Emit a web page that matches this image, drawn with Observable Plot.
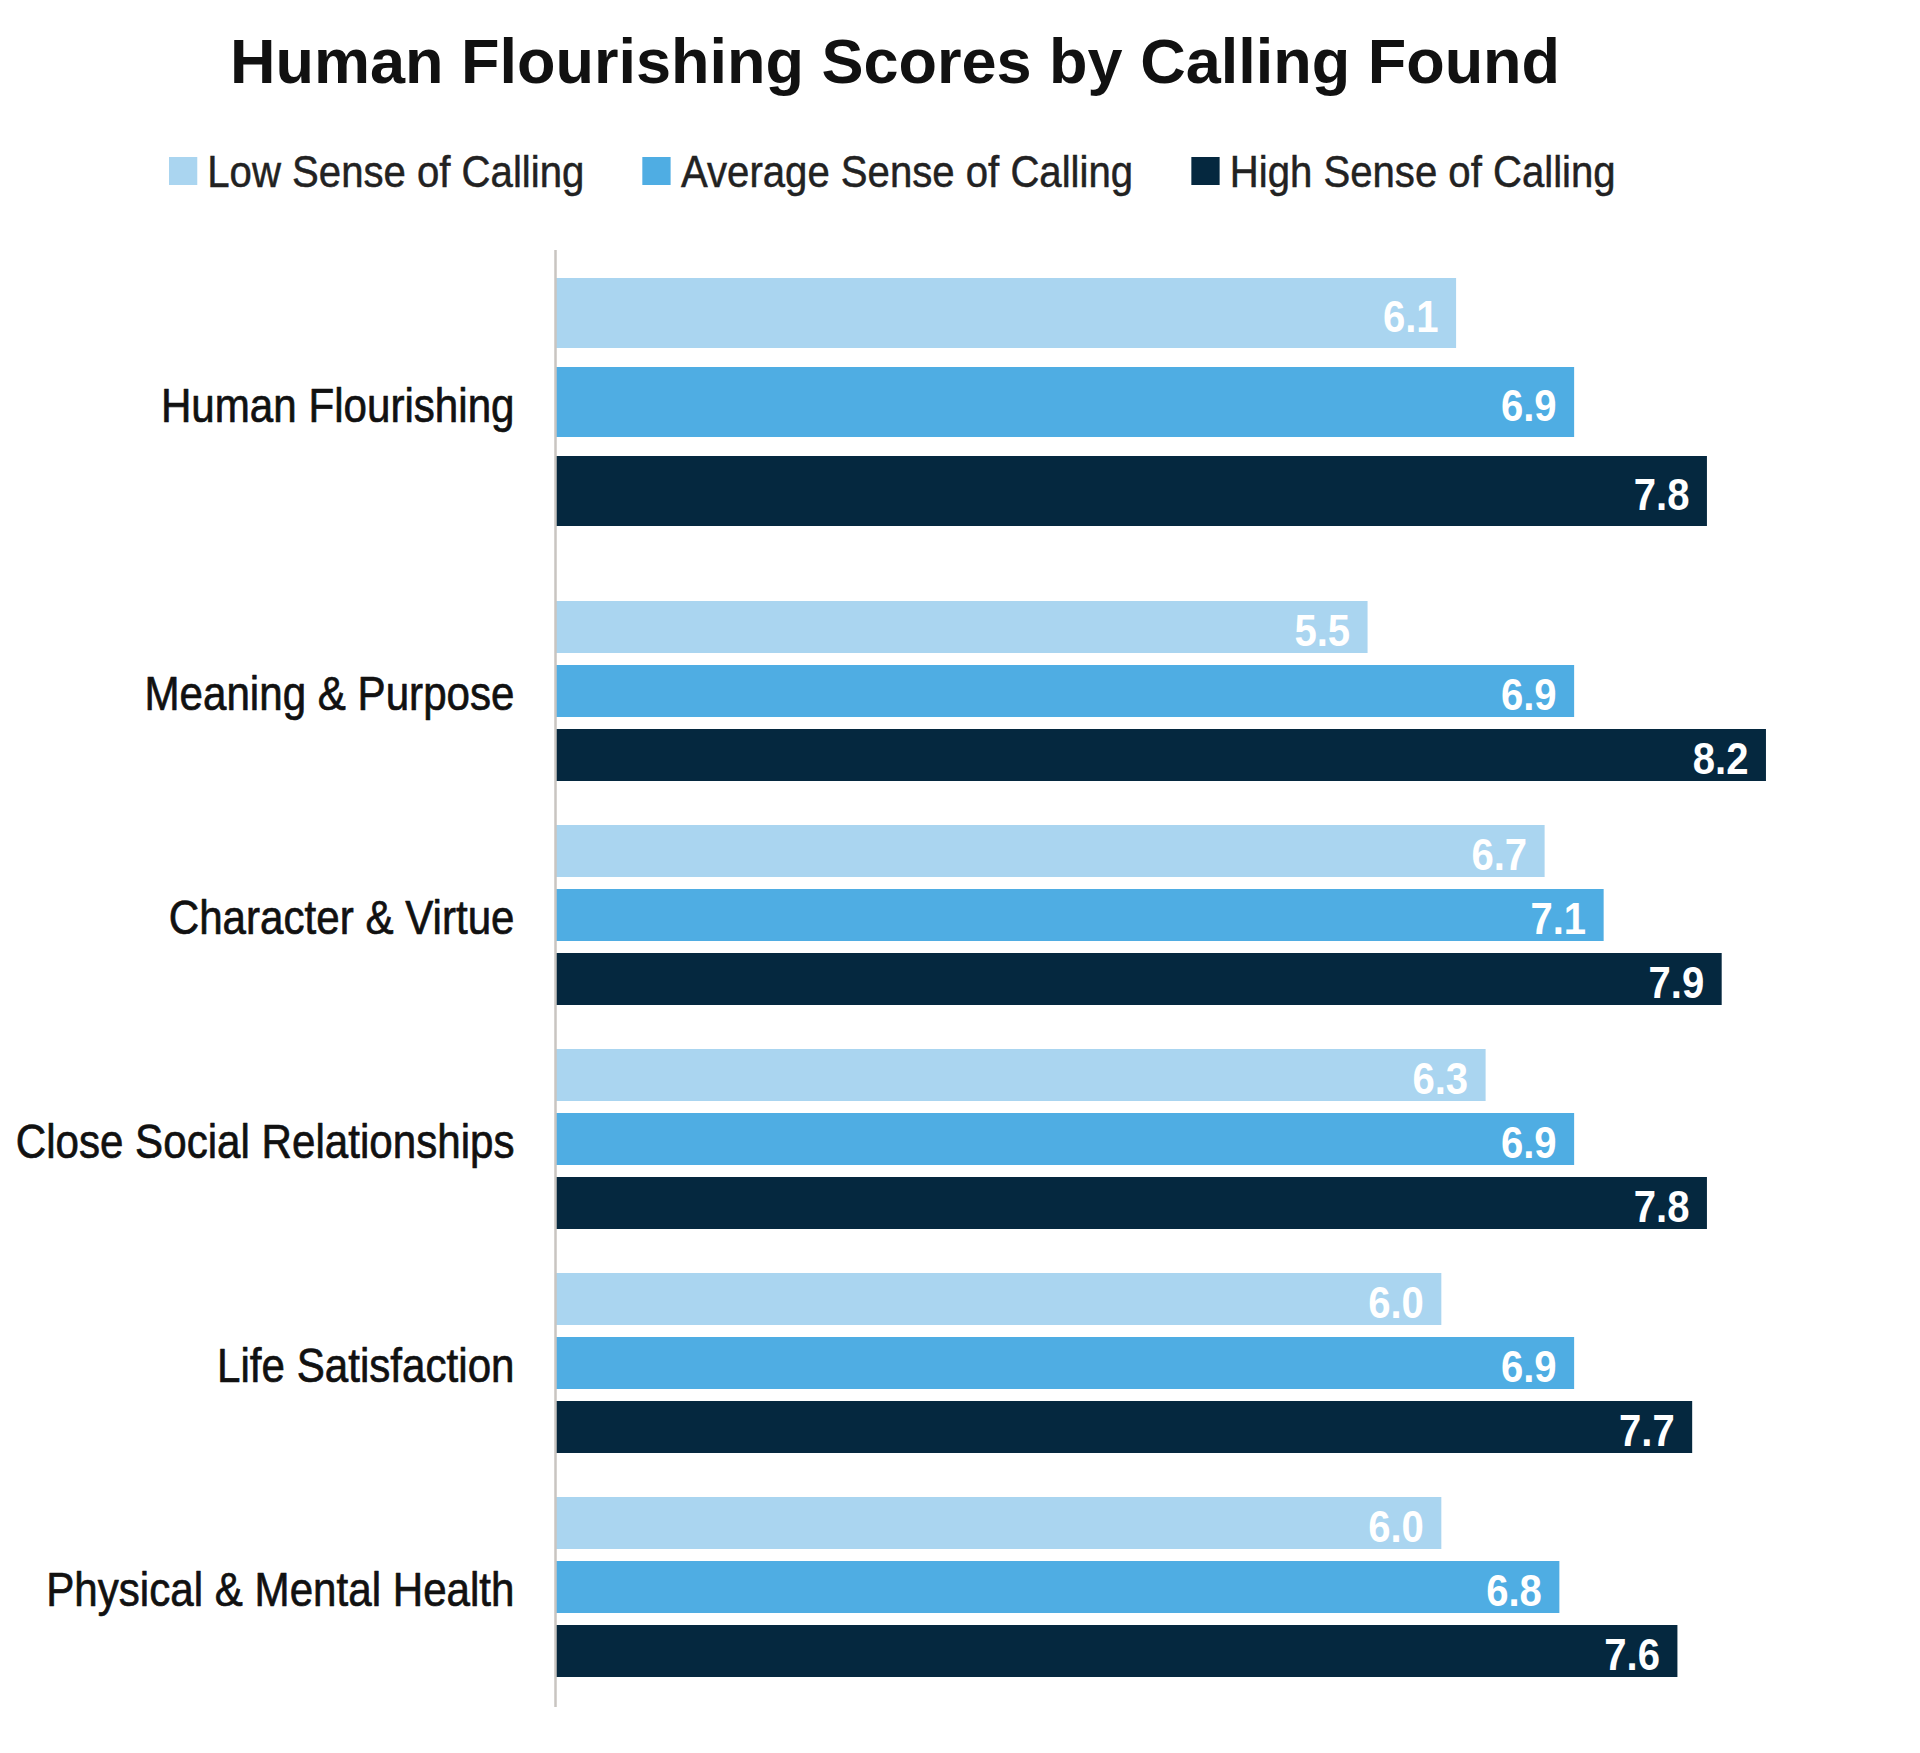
<!DOCTYPE html>
<html>
<head>
<meta charset="utf-8">
<script src="https://cdn.jsdelivr.net/npm/d3@7"></script>
<script src="https://cdn.jsdelivr.net/npm/@observablehq/plot@0.6"></script>
<style>
  html, body { margin: 0; padding: 0; background: #fff; overflow: hidden; }
  #wrap { position: relative; width: 1920px; height: 1753px; }
  #title {
    position: absolute; left: 230px; top: 30px; margin: 0;
    font-family: "Liberation Sans", Arial, sans-serif; font-weight: bold;
    font-size: 63px; line-height: 63px; color: #111; white-space: nowrap;
  }
  #legend {
    position: absolute; left: 169px; top: 150px; display: flex; align-items: center;
    font-family: "Liberation Sans", Arial, sans-serif;
    font-size: 44px; line-height: 44px; color: #222; white-space: nowrap;
    -webkit-text-stroke: 0.5px #222;
    transform: scaleX(0.912); transform-origin: 0 0;
  }
  .item { display: flex; align-items: center; margin-right: 64px; }
  .sw { width: 31px; height: 28px; margin-right: 11px; margin-top: -3px; }
  #charts { position: absolute; left: 0; top: 250px; }
  #charts svg { display: block; }
</style>
</head>
<body>
<div id="wrap">
  <h1 id="title">Human Flourishing Scores by Calling Found</h1>
  <div id="legend"></div>
  <div id="charts"></div>
</div>
<script>
const categories = [
  "Human Flourishing",
  "Meaning & Purpose",
  "Character & Virtue",
  "Close Social Relationships",
  "Life Satisfaction",
  "Physical & Mental Health"
];
const series = ["Low Sense of Calling", "Average Sense of Calling", "High Sense of Calling"];
const lowValues = [6.1, 5.5, 6.7, 6.3, 6.0, 6.0];
const averageValues = [6.9, 6.9, 7.1, 6.9, 6.9, 6.8];
const highValues = [7.8, 8.2, 7.9, 7.8, 7.7, 7.6];
const seriesColors = ["#aad5f0", "#4fade3", "#05283f"];

const valuesBySeries = [lowValues, averageValues, highValues];

// legend
const legend = document.getElementById("legend");
series.forEach((s, i) => {
  const item = document.createElement("div");
  item.className = "item";
  const sw = document.createElement("span");
  sw.className = "sw";
  sw.style.background = seriesColors[i];
  const t = document.createElement("span");
  t.textContent = s;
  item.appendChild(sw);
  item.appendChild(t);
  legend.appendChild(item);
});

const font = '"Liberation Sans", Arial, sans-serif';

// horizontally condense text elements of a Plot svg around their anchor point
function condense(svg, selector, sx) {
  svg.querySelectorAll(selector).forEach(t => {
    const tr = t.getAttribute("transform") || "";
    t.setAttribute("transform", `${tr} scale(${sx},1)`);
  });
}

function groupPlot(ci) {
  const first = ci === 0;
  const last = ci === categories.length - 1;
  const marginTop = first ? 28 : 37;
  const marginBottom = first ? 36 : (last ? 30 : 6);
  const height = first ? 313 : (last ? 248 : 224);
  const rows = series.map((s, si) => ({ series: s, value: valuesBySeries[si][ci] }));
  const svg = Plot.plot({
    width: 1920,
    height,
    marginLeft: 556,
    marginRight: 36,
    marginTop,
    marginBottom,
    style: { fontFamily: font, background: "transparent", overflow: "visible" },
    x: { domain: [0, 9], axis: null },
    y: { domain: series, axis: null, paddingInner: first ? 0.213 : 0.19, paddingOuter: 0 },
    color: { domain: series, range: seriesColors },
    marks: [
      Plot.barX(rows, { x: "value", y: "series", fill: "series" }),
      Plot.ruleX([0], {
        stroke: "#c9c5c1", strokeWidth: 2.5, dx: -1,
        insetTop: -marginTop, insetBottom: -marginBottom
      }),
      Plot.text(rows, {
        x: "value", y: "series", text: d => d.value.toFixed(1),
        textAnchor: "end", dx: -18, dy: 4, fill: "#ffffff",
        fontSize: 45, fontWeight: "bold", className: "vlabel"
      }),
      Plot.text([categories[ci]], {
        frameAnchor: "left", text: d => d, textAnchor: "end",
        dx: -42, dy: 3, fontSize: 49, fill: "#111",
        stroke: "#111", strokeWidth: 0.7, className: "clabel"
      })
    ]
  });
  condense(svg, ".vlabel text", 0.89);
  condense(svg, ".clabel text", 0.86);
  return svg;
}

const charts = document.getElementById("charts");
categories.forEach((c, i) => charts.appendChild(groupPlot(i)));
</script>
</body>
</html>
